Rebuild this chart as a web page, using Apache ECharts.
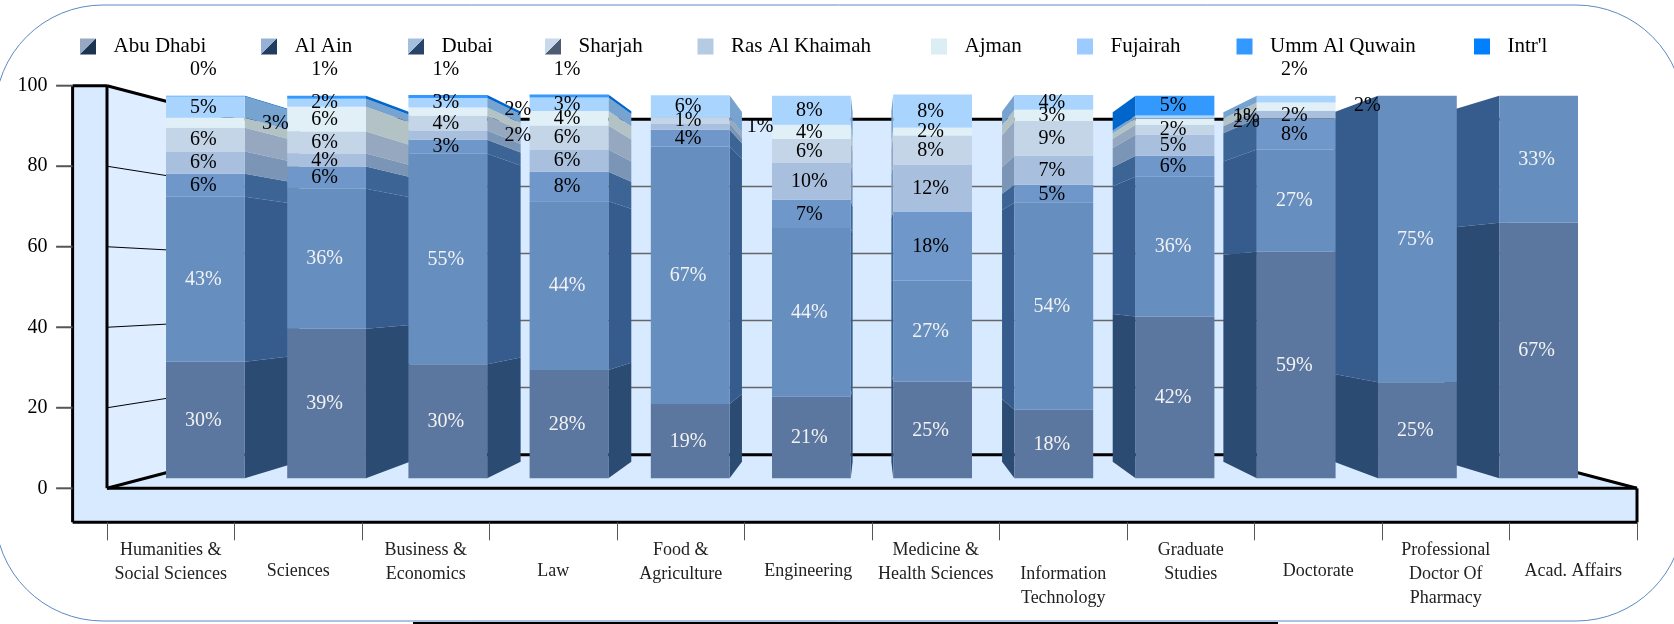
<!DOCTYPE html>
<html><head><meta charset="utf-8">
<style>html,body{margin:0;padding:0;background:#fff}#c{width:1674px;height:624px}</style>
<script src="https://cdn.jsdelivr.net/npm/echarts@6/dist/echarts.min.js"></script>
</head><body><div id="c"></div>
<script>
const categories = ['Humanities & Social Sciences','Sciences','Business & Economics','Law','Food & Agriculture','Engineering','Medicine & Health Sciences','Information Technology','Graduate Studies','Doctorate','Professional Doctor Of Pharmacy','Acad. Affairs'];
const tickLabels = ['Humanities &\nSocial Sciences','\nSciences','Business &\nEconomics','\nLaw','Food &\nAgriculture','\nEngineering','Medicine &\nHealth Sciences','\nInformation\nTechnology','Graduate\nStudies','\nDoctorate','Professional\nDoctor Of\nPharmacy','\nAcad. Affairs'];
const seriesNames = ['Abu Dhabi','Al Ain','Dubai','Sharjah','Ras Al Khaimah','Ajman','Fujairah','Umm Al Quwain',"Intr'l"];
const yTicks = [0,20,40,60,80,100];

const abuDhabi = [30.5,39.1,29.8,28.3,19.4,21.3,25.3,17.9,42.3,59.2,25.1,66.8];
const alAin    = [43.1,36.6,55.0,44.1,67.3,44.1,26.4,54.1,36.5,26.7,74.9,33.2];
const dubai    = [6.0,5.8,3.7,7.7,4.4,7.4,18.0,4.7,5.5,8.1,0,0];
const sharjah  = [5.8,3.4,2.4,5.8,1.6,9.7,12.3,7.6,5.5,2.0,0,0];
const rasAlKh  = [6.2,5.7,3.9,6.3,1.6,6.2,7.6,9.1,2.6,0.1,0,0];
const ajman    = [2.6,6.5,2.1,3.8,0,3.7,2.1,2.9,1.6,2.1,0,0];
const fujairah = [5.6,2.1,2.5,3.5,5.8,7.6,8.6,3.9,0.8,1.8,0,0];
const ummAlQ   = [0.2,0.8,0.8,0.8,0,0,0,0,5.2,0,0,0];
const intl     = [0,0,0,0,0,0,0,0,0,0,0,0];
const seriesValues = [abuDhabi,alAin,dubai,sharjah,rasAlKh,ajman,fujairah,ummAlQ,intl];

// printed percentages centred on the front of each segment (null: none there)
const n = null;
const abuLabels  = [30,39,30,28,19,21,25,18,42,59,25,67];
const ainLabels  = [43,36,55,44,67,44,27,54,36,27,75,33];
const dubLabels  = [6,6,3,8,4,7,18,5,6,8,n,n];
const shjLabels  = [6,4,n,6,n,10,12,7,5,2,n,n];
const rakLabels  = [6,6,4,6,1,6,8,9,2,n,n,n];
const ajmLabels  = [n,6,n,4,n,4,2,3,n,n,n,n];
const fujLabels  = [5,2,3,3,6,8,8,4,n,n,n,n];
const uaqLabels  = [n,n,n,n,n,n,n,n,5,n,n,n];
const intLabels  = [n,n,n,n,n,n,n,n,n,n,n,n];
const seriesLabels = [abuLabels,ainLabels,dubLabels,shjLabels,rakLabels,ajmLabels,fujLabels,uaqLabels,intLabels];
// percentages moved beside the bar: [category, series, printed value, vertical nudge]
const sideLabels = [[0,5,3,0],[2,5,2,-2],[2,3,2,0],[4,3,1,0],[9,4,1,5],[9,5,2,15],[10,6,2,10]];
// percentages moved above the bar: [category, series, printed value]
const topLabels = [[0,7,0],[1,7,1],[2,7,1],[3,7,1],[9,6,2]];

const frontColors = ['#5b779f','#668ebf','#6f97c9','#a9bfde','#c4d5e8','#e1f0f6','#a8d4fd','#3399ff','#0080ff'];
const sideColors  = ['#2b4b73','#355c8d','#3c6596','#7a95b5','#95a8c0','#b2c2c5','#76a3d0','#0066cc','#0060c0'];
const legendA = ['#97a8c2','#96b1d3','#a4bedd','#c9d8ea','#b6cae3','#daeef3','#9ccbff','#3399ff','#0080ff'];
const legendB = ['#1c3450','#223c60','#2a4469','#4d5c70','#b6cae3','#daeef3','#9ccbff','#3399ff','#0080ff'];
const legendLefts = [80,261,408,545,697.5,931,1077,1236.5,1474];

const FONT = '"Liberation Serif"';
const sFront = 0.9506, sBack = 0.868, sWall = 0.833, barRatio = 0.65;
const sideOffsetRight = 70, sideOffsetLeft = -50, topLift = 26, labelSize = 20;

function projector(cs){
  const vx = cs.x + cs.width/2, vy = cs.y + cs.height/2;
  return (p,s)=>[vx+(p[0]-vx)*s, vy+(p[1]-vy)*s];
}
function textEl(text,x,y,fill){
  return {type:'text',z2:100,silent:true,style:{text:text,x:x,y:y+0.5,fill:fill,align:'center',verticalAlign:'middle',font:labelSize+'px '+FONT}};
}
function renderSegment(si){
  return function(params,api){
    const i = api.value(0), lo = api.value(1), hi = api.value(2);
    const cs = params.coordSys, P = projector(cs);
    const a = api.coord([i,lo]), b = api.coord([i,hi]);
    const half = api.size([1,0])[0]*barRatio/2;
    const rank = i<6 ? i : 11-i;
    const left = a[0]-half, right = a[0]+half;
    const kids = [];
    if (hi>lo){
      const edge = i<6 ? right : left;
      kids.push({type:'polygon',z2:rank*2+1,silent:true,shape:{points:[P([edge,a[1]],sFront),P([edge,b[1]],sFront),P([edge,b[1]],sBack),P([edge,a[1]],sBack)]},style:{fill:sideColors[si]}});
      kids.push({type:'polygon',z2:rank*2+2,silent:true,shape:{points:[P([left,a[1]],sFront),P([right,a[1]],sFront),P([right,b[1]],sFront),P([left,b[1]],sFront)]},style:{fill:frontColors[si]}});
    }
    const mid = P([a[0],(a[1]+b[1])/2],sFront);
    const ink = si<2 ? '#f2f2f2' : '#000';
    const v = seriesLabels[si][i];
    if (v!==null) kids.push(textEl(v+'%',mid[0]-2,mid[1],ink));
    sideLabels.forEach(s=>{ if(s[0]===i&&s[1]===si) kids.push(textEl(s[2]+'%',mid[0]+(i<6?sideOffsetRight:sideOffsetLeft),mid[1]+s[3],'#000')); });
    topLabels.forEach(s=>{ if(s[0]===i&&s[1]===si){ const t=P([a[0],api.coord([i,100])[1]],sFront); kids.push(textEl(s[2]+'%',mid[0]-2,t[1]-topLift,'#000')); } });
    return {type:'group',children:kids};
  };
}
function renderFrame(params,api){
  const cs = params.coordSys, P = projector(cs);
  const L = cs.x, R = cs.x+cs.width, T = cs.y, B = cs.y+cs.height;
  const dx = 34.4, dy = 34, tickLen = 16.5;
  const bTL = P([L,T],sWall), bBL = P([L,B],sWall), bBR = P([R,B],sWall), bTR = P([R,T],sWall);
  const fill = '#d8eaff', side = '#deedff';
  const poly = (pts,f)=>({type:'polygon',silent:true,shape:{points:pts},style:{fill:f}});
  const line = (p,q,w,c,z)=>({type:'line',silent:true,z2:z||0,shape:{x1:p[0],y1:p[1],x2:q[0],y2:q[1]},style:{stroke:c||'#000',lineWidth:w}});
  const kids = [
    poly([bTL,bTR,bBR,bBL],fill),
    poly([[L,T],bTL,bBL,[L,B]],side),
    poly([[L,B],[R,B],bBR,bBL],fill),
    poly([[L-dx,T],[L,T],[L,B+dy],[L-dx,B+dy]],fill),
    poly([[L,B],[R,B],[R,B+dy],[L,B+dy]],fill)
  ];
  yTicks.forEach(v=>{
    const y = api.coord([0,v])[1];
    kids.push(line([L-dx-tickLen,y],[L-dx,y],2,'#555',50));
    if (v===yTicks[0]||v===yTicks[yTicks.length-1]) return;
    const q = P([L,y],sWall), r = P([R,y],sWall);
    kids.push(line([L,y],q,1,'#000'));
    kids.push(line(q,r,1.5,'#666'));
  });
  kids.push(line(bTL,bTR,3),line(bBL,bBR,3),
    line([L,T],bTL,3),line([L,B],bBL,3),line([R,B],bBR,3),
    line([L-dx,T],[L,T],3),line([L-dx,T],[L-dx,B+dy],3),line([L,T],[L,B],3),
    line([L-dx,B+dy],[R,B+dy],3),line([L,B],[R,B],3),line([R,B],[R,B+dy],3));
  return {type:'group',children:kids};
}

// stacked [category, from, to] rows for every series
const running = categories.map(()=>0);
const segments = seriesValues.map(vals=>vals.map((v,i)=>{const lo=running[i];running[i]+=v;return [i,lo,running[i]];}));

const series = seriesNames.map((name,si)=>({
  name:name,type:'custom',coordinateSystem:'cartesian2d',z:3,silent:true,clip:false,
  itemStyle:{color:frontColors[si]},encode:{x:0,y:[1,2]},
  data:segments[si],renderItem:renderSegment(si),animation:false
}));
series.unshift({name:'frame',type:'custom',coordinateSystem:'cartesian2d',z:1,silent:true,clip:false,data:[[0,0]],encode:{x:0,y:1},renderItem:renderFrame,animation:false});

const chart = echarts.init(document.getElementById('c'));
chart.setOption({
  animation:false,backgroundColor:'#fff',
  graphic:[
    {type:'rect',z:0,silent:true,shape:{x:-5,y:5,width:1689,height:616,r:108},style:{fill:'none',stroke:'#5b8ac2',lineWidth:1}},
    {type:'rect',z:0,silent:true,shape:{x:413,y:622,width:865,height:2},style:{fill:'#000'}}
  ],
  legend:seriesNames.map((name,i)=>({
    left:legendLefts[i],top:36,padding:0,itemWidth:16,itemHeight:16,selectedMode:false,
    textStyle:{fontFamily:FONT,fontSize:21,color:'#000',padding:[0,0,5,12.5]},
    data:[{name:name,icon:'rect',itemStyle:{borderWidth:0,color:new echarts.graphic.LinearGradient(0,0,1,1,[{offset:0,color:legendA[i]},{offset:0.5,color:legendA[i]},{offset:0.5,color:legendB[i]},{offset:1,color:legendB[i]}])}}]
  })),
  grid:{left:107,top:85.7,width:1530,height:402.6,containLabel:false,outerBoundsMode:'none'},
  xAxis:{type:'category',data:tickLabels.map(t=>t.split('\n').length===2&&t[0]==='\n'?{value:t,textStyle:{lineHeight:22.4}}:t),offset:34,boundaryGap:true,z:5,
    axisLine:{show:true,onZero:false,lineStyle:{color:'rgba(0,0,0,0)',width:1}},axisTick:{show:true,inside:false,length:18,alignWithLabel:false,lineStyle:{color:'#555',width:1}},
    axisLabel:{interval:0,margin:15.5,fontFamily:FONT,fontSize:18,lineHeight:24,color:'#222',verticalAlign:'top',hideOverlap:false},splitLine:{show:false}},
  yAxis:{type:'value',min:0,max:100,interval:20,offset:34.4,z:5,position:'left',
    axisLine:{show:false},axisTick:{show:false},
    axisLabel:{margin:25,fontFamily:FONT,fontSize:20,color:'#000',showMinLabel:true,showMaxLabel:true},splitLine:{show:false}},
  series:series
});
</script></body></html>
